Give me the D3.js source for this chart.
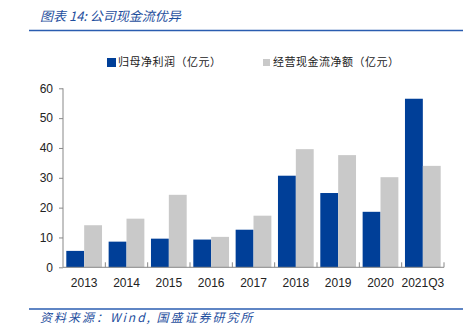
<!DOCTYPE html>
<html><head><meta charset="utf-8">
<script src="https://cdn.jsdelivr.net/npm/d3@7"></script>
<style>body{margin:0;background:#fff;}svg{display:block;}</style>
</head><body>
<svg id="c" width="474" height="330"></svg>
<script>
const categories = ["2013","2014","2015","2016","2017","2018","2019","2020","2021Q3"];
const netProfit = [5.5, 8.6, 9.6, 9.3, 12.6, 30.7, 24.9, 18.6, 56.5];
const opCashFlow = [14.1, 16.3, 24.3, 10.2, 17.3, 39.6, 37.6, 30.2, 34.0];
const seriesNames = ["归母净利润（亿元）", "经营现金流净额（亿元）"];
const yTicks = [0,10,20,30,40,50,60];
const titleText = "图表 14:  公司现金流优异";
const sourceText = "资料来源：Wind, 国盛证券研究所";

const svg = d3.select("#c");
const colors = ["#003f98", "#c9c9c9"];
const mLeft = 63, mRight = 444, mTop = 88.3, mBottom = 267.3;
const x = d3.scaleBand().domain(categories).range([mLeft, mRight]).paddingInner(0).paddingOuter(0);
const xs = d3.scaleBand().domain([0,1]).range([0, x.bandwidth()]).paddingInner(0).paddingOuter(0.185);
const y = d3.scaleLinear().domain([0,60]).range([mBottom, mTop]);

const cjk = "'Noto Sans CJK SC', sans-serif";
const tColor = "#1f4f9e";
// title
svg.append("text").attr("x", 40).attr("y", 21).attr("font-family", cjk)
  .attr("font-size", 13).attr("font-style", "italic").attr("fill", tColor).text(titleText);
svg.append("line").attr("x1", 29).attr("x2", 463).attr("y1", 30.5).attr("y2", 30.5)
  .attr("stroke", "#2a5db0").attr("stroke-width", 1.5);
svg.append("line").attr("x1", 29).attr("x2", 463).attr("y1", 309).attr("y2", 309)
  .attr("stroke", "#2a5db0").attr("stroke-width", 1.5);
svg.append("text").attr("x", 40).attr("y", 322).attr("font-family", cjk)
  .attr("font-size", 12).attr("font-style", "italic").attr("letter-spacing", 2)
  .attr("fill", tColor).text(sourceText);

// legend
const lg = [{x:107, s:9, ty:58}, {x:263, s:7, ty:59}];
lg.forEach((l,i) => {
  svg.append("rect").attr("x", l.x).attr("y", l.ty).attr("width", l.s).attr("height", l.s)
    .attr("fill", colors[i]);
  svg.append("text").attr("x", l.x + (i===0?11:10)).attr("y", 66).attr("font-family", cjk)
    .attr("font-size", 11).attr("letter-spacing", 0.5).attr("fill", "#222").text(seriesNames[i]);
});

// bars
const data = categories.map((c,i) => ({c, v:[netProfit[i], opCashFlow[i]]}));
const g = svg.append("g");
data.forEach(d => {
  d.v.forEach((v,j) => {
    g.append("rect").attr("x", x(d.c) + xs(j)).attr("width", xs.bandwidth())
      .attr("y", y(v)).attr("height", y(0) - y(v)).attr("fill", colors[j]);
  });
});

// y axis
const yAxis = svg.append("g").attr("transform", `translate(${mLeft},0)`)
  .call(d3.axisLeft(y).tickValues(yTicks).tickSize(4).tickPadding(6));
yAxis.selectAll("text").attr("font-family", "'Liberation Sans', Arial, sans-serif")
  .attr("font-size", 12).attr("fill", "#222");
yAxis.selectAll("line, path").attr("stroke", "#888");
yAxis.select(".domain").attr("d", `M0,${mTop}V${mBottom}`);

// x axis
const xAxis = svg.append("g").attr("transform", `translate(0,${mBottom})`)
  .call(d3.axisBottom(x).tickSize(0).tickPadding(11));
xAxis.selectAll("text").attr("font-family", "'Liberation Sans', Arial, sans-serif")
  .attr("font-size", 12).attr("fill", "#222");
xAxis.select(".domain").attr("stroke", "#888").attr("d", `M${mLeft},0H${mRight}`);
categories.forEach((c,i) => {
  const xx = x(c) + x.bandwidth();
  xAxis.append("line").attr("x1", xx).attr("x2", xx).attr("y1", 0).attr("y2", -5)
    .attr("stroke", "#888");
});
</script>
</body></html>
